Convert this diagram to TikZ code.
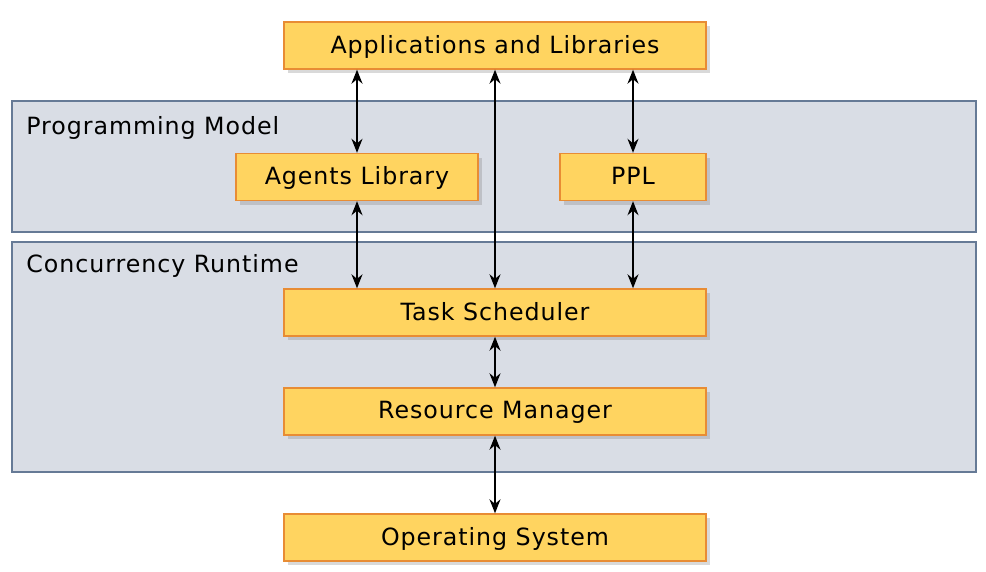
\documentclass[tikz,border=0pt]{standalone}
\usepackage{fontspec}
\setmainfont{DejaVu Sans}[LetterSpace=4]
\usetikzlibrary{shadows,arrows.meta}
\definecolor{boxfill}{RGB}{255,212,96}
\definecolor{boxline}{RGB}{232,140,52}
\definecolor{panelfill}{RGB}{217,221,229}
\definecolor{panelline}{RGB}{102,122,150}
\begin{document}
\begin{tikzpicture}[x=0.2mm,y=-0.2mm, font=\fontsize{13.5}{16}\selectfont, >={Stealth[length=2.8mm,width=2.2mm]},
	box/.style={draw=boxline, line width=0.8pt, fill=boxfill, minimum height=9.4mm, inner sep=0pt,
		text depth=0.25ex, drop shadow={opacity=0.3, shadow xshift=0.8mm, shadow yshift=-0.8mm}},
	panel/.style={draw=panelline, line width=1pt, fill=panelfill},
	link/.style={<->, line width=0.9pt}]
	\useasboundingbox (0,0) rectangle (986,571);
	% layers
	\draw[panel] (12,101) rectangle (976,232);
	\draw[panel] (12,242) rectangle (976,472);
	\node[anchor=west, inner sep=0pt] (pmlabel) at (26,128) {Programming Model};
	\node[anchor=west, inner sep=0pt] (crlabel) at (26,266) {Concurrency Runtime};
	% components
	\node[box, minimum width=84.4mm] (apps) at (495,45.5) {Applications and Libraries};
	\node[box, minimum width=48.4mm] (agents) at (357,177) {Agents Library};
	\node[box, minimum width=29.2mm] (ppl) at (633,177) {PPL};
	\node[box, minimum width=84.4mm] (sched) at (495,312.5) {Task Scheduler};
	\node[box, minimum width=84.4mm] (resmgr) at (495,411.5) {Resource Manager};
	\node[box, minimum width=84.4mm] (os) at (495,537.5) {Operating System};
	% connectors
	\draw[link] (apps.south -| agents) -- (agents.north);
	\draw[link] (apps.south -| ppl) -- (ppl.north);
	\draw[link] (apps.south) -- (sched.north);
	\draw[link] (agents.south) -- (agents.south |- sched.north);
	\draw[link] (ppl.south) -- (ppl.south |- sched.north);
	\draw[link] (sched.south) -- (resmgr.north);
	\draw[link] (resmgr.south) -- (os.north);
\end{tikzpicture}
\end{document}
